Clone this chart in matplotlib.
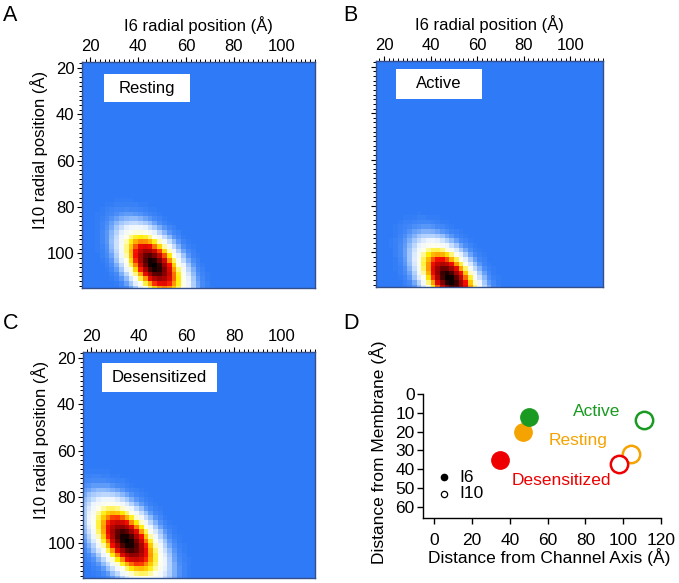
import numpy as np
import matplotlib
matplotlib.use("Agg")
import matplotlib.pyplot as plt
from matplotlib.colors import LinearSegmentedColormap
from matplotlib.ticker import MultipleLocator

plt.rcParams['font.family'] = ['Liberation Sans', 'DejaVu Sans']

# ---- data ----
states = ["Resting", "Active", "Desensitized"]
# heatmap peak positions (I6 radial, I10 radial) and blob shape (major sigma, minor sigma, angle deg)
peak_i6 = [46.5, 48, 35]
peak_i10 = [105, 111.5, 99]
sigma_major = [10.0, 10.0, 11.0]
sigma_minor = [5.5, 5.5, 6.0]
angle_deg = [52, 52, 52]
grid_edges = np.arange(16, 118, 2)

x_ticks = [20, 40, 60, 80, 100]
y_ticks = [20, 40, 60, 80, 100]

# Panel D
i6_axis = [47, 50, 35]      # Resting, Active, Desensitized
i6_memb = [20, 12, 35]
i10_axis = [104, 111, 98]
i10_memb = [32, 14, 37]
state_colors = ["#f5a300", "#1b9a22", "#ee0000"]
label_x = [76, 86, 67]
label_y = [25, 9.5, 46]
d_xticks = [0, 20, 40, 60, 80, 100, 120]
d_yticks = [0, 10, 20, 30, 40, 50, 60]

cmap = LinearSegmentedColormap.from_list("heat", [
    (0.0, (0.18, 0.48, 0.97)),
    (0.025, (0.30, 0.56, 0.97)),
    (0.07, (0.62, 0.77, 0.99)),
    (0.15, (0.93, 0.96, 1.0)),
    (0.25, (1.0, 1.0, 0.92)),
    (0.38, (1.0, 0.93, 0.0)),
    (0.50, (1.0, 0.55, 0.0)),
    (0.60, (0.97, 0.05, 0.0)),
    (0.82, (0.55, 0.0, 0.0)),
    (1.0, (0.0, 0.0, 0.0)),
])

fig = plt.figure(figsize=(6.79, 5.83), dpi=100)

W, H = 679.0, 583.0
def rect(l, t, r, b):
    return [l / W, (H - b) / H, (r - l) / W, (b - t) / H]

rects = [rect(82, 62, 315, 288), rect(376, 61, 603, 287), rect(83, 352, 315, 578)]
box_rects = [(104, 74, 190, 102), (396, 69, 482, 99), (102, 363, 217, 392)]

centers = 0.5 * (grid_edges[:-1] + grid_edges[1:])
XX, YY = np.meshgrid(centers, centers)

spine_col = "#34508c"
for k in range(3):
    ax = fig.add_axes(rects[k])
    th = np.deg2rad(angle_deg[k])
    dx = XX - peak_i6[k]
    dy = YY - peak_i10[k]
    u = dx * np.cos(th) + dy * np.sin(th)
    v = -dx * np.sin(th) + dy * np.cos(th)
    Z = np.exp(-0.5 * ((u / sigma_major[k]) ** 2 + (v / sigma_minor[k]) ** 2))
    ax.pcolormesh(grid_edges, grid_edges, Z, cmap=cmap, vmin=0, vmax=1, shading="flat")
    ax.set_xlim(16.5, 114)
    ax.set_ylim(115, 17.5)
    ax.xaxis.tick_top()
    ax.xaxis.set_label_position("top")
    ax.set_xticks(x_ticks)
    ax.set_yticks(y_ticks)
    ax.xaxis.set_minor_locator(MultipleLocator(2))
    ax.yaxis.set_minor_locator(MultipleLocator(2))
    ax.tick_params(which="major", direction="out", length=3.5, width=0.8, labelsize=12, pad=2)
    ax.tick_params(which="minor", direction="out", length=2, width=0.7)
    for s in ax.spines.values():
        s.set_color(spine_col)
        s.set_linewidth(1.0)
    if k in (0, 1):
        ax.set_xlabel("I6 radial position (Å)", fontsize=12, labelpad=6)
    if k in (0, 2):
        ax.set_ylabel("I10 radial position (Å)", fontsize=12, labelpad=4)
        ax.yaxis.set_label_coords(-0.148, 0.61)
    else:
        ax.set_yticklabels([])
    bl, bt, br, bb = box_rects[k]
    bx0 = (bl - rects[k][0] * W) / (rects[k][2] * W)
    by0 = ((H - bb) / H - rects[k][1]) / rects[k][3]
    bw = (br - bl) / (rects[k][2] * W)
    bh = (bb - bt) / (rects[k][3] * H)
    ax.add_patch(plt.Rectangle((bx0, by0), bw, bh, transform=ax.transAxes,
                               facecolor="white", edgecolor="none", zorder=3))
    ax.text(bx0 + bw / 2, by0 + bh / 2, states[k], transform=ax.transAxes,
            ha="center", va="center", fontsize=12, zorder=4)

# Panel D
axd = fig.add_axes(rect(423, 394, 661, 518))
for k in range(3):
    axd.plot(i6_axis[k], i6_memb[k], "o", ms=12.5, color=state_colors[k], mec=state_colors[k])
    axd.plot(i10_axis[k], i10_memb[k], "o", ms=12.5, mfc="white", mec=state_colors[k], mew=1.8)
    axd.text(label_x[k], label_y[k], states[k], color=state_colors[k], fontsize=12.5,
             ha="center", va="center")
axd.plot(5.3, 44.2, "o", ms=4.5, color="black")
axd.plot(5.3, 53.2, "o", ms=4.5, mfc="white", mec="black", mew=0.9)
axd.text(13, 44.2, "I6", fontsize=12.5, va="center", ha="left")
axd.text(13, 53.2, "I10", fontsize=12.5, va="center", ha="left")
axd.set_xlim(-6, 120)
axd.set_ylim(66, 0)
axd.set_xticks(d_xticks)
axd.set_yticks(d_yticks)
axd.spines["top"].set_visible(False)
axd.spines["right"].set_visible(False)
for s in ("left", "bottom"):
    axd.spines[s].set_linewidth(1.0)
axd.tick_params(direction="out", length=4, width=1.0, labelsize=12.5)
axd.tick_params(axis="x", pad=7)
axd.tick_params(axis="y", pad=2)
axd.set_xlabel("Distance from Channel Axis (Å)", fontsize=12.5)
axd.xaxis.set_label_coords(0.53, -0.315)
axd.xaxis.label.set_va("center")
axd.set_ylabel("Distance from Membrane (Å)", fontsize=12.5)
axd.yaxis.set_label_coords(-0.15, 0.53)

# panel letters
for letter, (px, py) in zip("ABCD", [(3, 5), (343, 5), (3, 313), (343, 313)]):
    fig.text(px / W, 1 - py / H, letter, fontsize=15.5, ha="left", va="top")

fig.savefig("out.png", dpi=100)
